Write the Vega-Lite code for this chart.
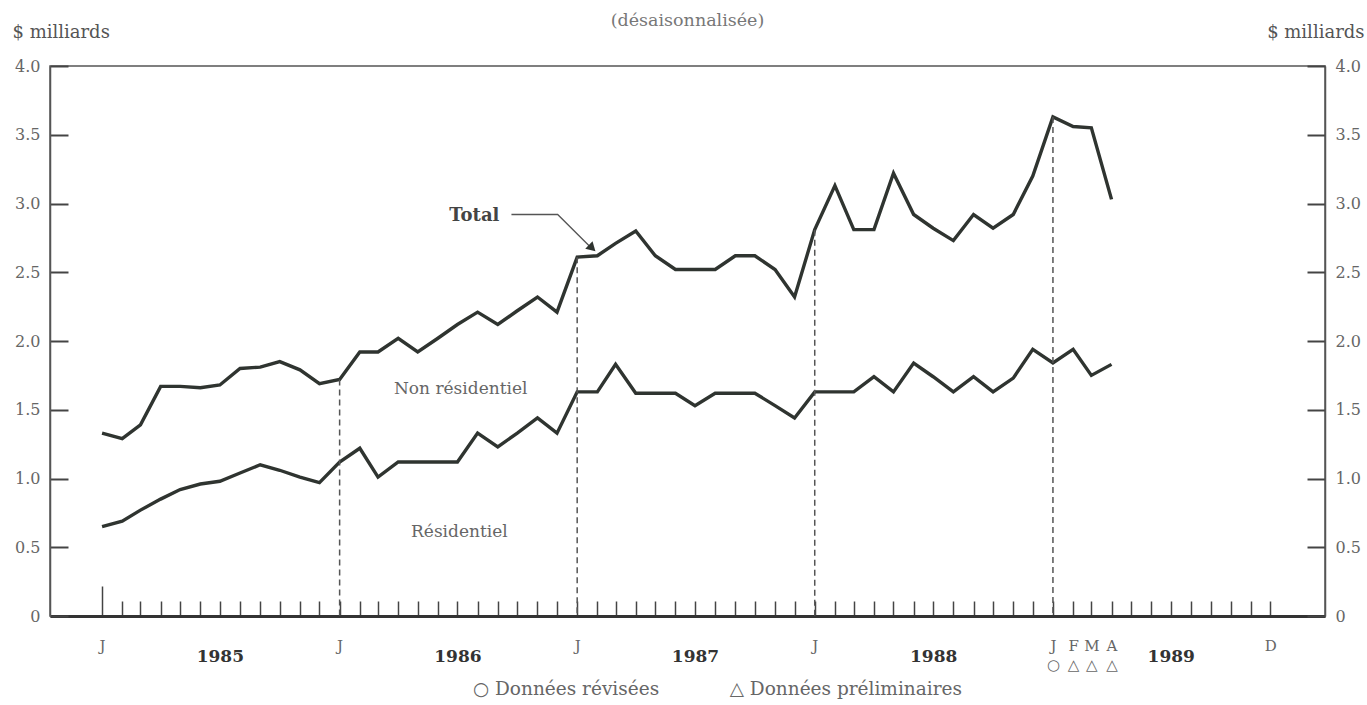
{
  "$schema": "https://vega.github.io/schema/vega-lite/v6.json",
  "width": 1275,
  "height": 550,
  "autosize": {"type": "none"},
  "padding": {"left": 50, "top": 66, "right": 42, "bottom": 89},
  "background": "white",
  "title": {"text": "(désaisonnalisée)", "font": "DejaVu Serif", "fontSize": 17.5, "fontWeight": "normal", "color": "#777", "anchor": "middle", "frame": "group", "offset": -6},
  "config": {"view": {"stroke": "#555", "strokeWidth": 1.5}, "font": "DejaVu Serif"},
  "data": {
    "format": {"parse": {"date": "date"}},
    "values": [
      {"date": "1985-01-01", "total": 1.33, "residential": 0.65},
      {"date": "1985-02-01", "total": 1.29, "residential": 0.69},
      {"date": "1985-03-01", "total": 1.39, "residential": 0.77},
      {"date": "1985-04-01", "total": 1.67, "residential": 0.85},
      {"date": "1985-05-01", "total": 1.67, "residential": 0.92},
      {"date": "1985-06-01", "total": 1.66, "residential": 0.96},
      {"date": "1985-07-01", "total": 1.68, "residential": 0.98},
      {"date": "1985-08-01", "total": 1.80, "residential": 1.04},
      {"date": "1985-09-01", "total": 1.81, "residential": 1.10},
      {"date": "1985-10-01", "total": 1.85, "residential": 1.06},
      {"date": "1985-11-01", "total": 1.79, "residential": 1.01},
      {"date": "1985-12-01", "total": 1.69, "residential": 0.97},
      {"date": "1986-01-01", "total": 1.72, "residential": 1.12},
      {"date": "1986-02-01", "total": 1.92, "residential": 1.22},
      {"date": "1986-03-01", "total": 1.92, "residential": 1.01},
      {"date": "1986-04-01", "total": 2.02, "residential": 1.12},
      {"date": "1986-05-01", "total": 1.92, "residential": 1.12},
      {"date": "1986-06-01", "total": 2.02, "residential": 1.12},
      {"date": "1986-07-01", "total": 2.12, "residential": 1.12},
      {"date": "1986-08-01", "total": 2.21, "residential": 1.33},
      {"date": "1986-09-01", "total": 2.12, "residential": 1.23},
      {"date": "1986-10-01", "total": 2.22, "residential": 1.33},
      {"date": "1986-11-01", "total": 2.32, "residential": 1.44},
      {"date": "1986-12-01", "total": 2.21, "residential": 1.33},
      {"date": "1987-01-01", "total": 2.61, "residential": 1.63},
      {"date": "1987-02-01", "total": 2.62, "residential": 1.63},
      {"date": "1987-03-01", "total": 2.71, "residential": 1.83},
      {"date": "1987-04-01", "total": 2.80, "residential": 1.62},
      {"date": "1987-05-01", "total": 2.62, "residential": 1.62},
      {"date": "1987-06-01", "total": 2.52, "residential": 1.62},
      {"date": "1987-07-01", "total": 2.52, "residential": 1.53},
      {"date": "1987-08-01", "total": 2.52, "residential": 1.62},
      {"date": "1987-09-01", "total": 2.62, "residential": 1.62},
      {"date": "1987-10-01", "total": 2.62, "residential": 1.62},
      {"date": "1987-11-01", "total": 2.52, "residential": 1.53},
      {"date": "1987-12-01", "total": 2.32, "residential": 1.44},
      {"date": "1988-01-01", "total": 2.81, "residential": 1.63},
      {"date": "1988-02-01", "total": 3.13, "residential": 1.63},
      {"date": "1988-03-01", "total": 2.81, "residential": 1.63},
      {"date": "1988-04-01", "total": 2.81, "residential": 1.74},
      {"date": "1988-05-01", "total": 3.22, "residential": 1.63},
      {"date": "1988-06-01", "total": 2.92, "residential": 1.84},
      {"date": "1988-07-01", "total": 2.82, "residential": 1.74},
      {"date": "1988-08-01", "total": 2.73, "residential": 1.63},
      {"date": "1988-09-01", "total": 2.92, "residential": 1.74},
      {"date": "1988-10-01", "total": 2.82, "residential": 1.63},
      {"date": "1988-11-01", "total": 2.92, "residential": 1.73},
      {"date": "1988-12-01", "total": 3.20, "residential": 1.94},
      {"date": "1989-01-01", "total": 3.63, "residential": 1.84},
      {"date": "1989-02-01", "total": 3.56, "residential": 1.94},
      {"date": "1989-03-01", "total": 3.55, "residential": 1.75},
      {"date": "1989-04-01", "total": 3.03, "residential": 1.83}
    ]
  },
  "resolve": {"axis": {"y": "independent"}},
  "layer": [
    {
      "mark": {"type": "line", "stroke": "#2f3430", "strokeWidth": 3.4, "strokeJoin": "miter"},
      "encoding": {
        "x": {
          "field": "date", "type": "temporal",
          "scale": {"type": "utc", "domain": [{"year": 1984, "month": 10, "date": 13, "utc": true}, {"year": 1990, "month": 2, "date": 23, "utc": true}]},
          "axis": {
            "tickCount": {"interval": "month", "step": 1},
            "labelExpr": "utcyear(datum.value)<1985||utcyear(datum.value)>1989 ? '' : utcmonth(datum.value)==0 ? (utcyear(datum.value)==1989 ? ['J','○'] : 'J') : utcmonth(datum.value)==6 ? ''+utcyear(datum.value) : (utcyear(datum.value)==1989 && utcmonth(datum.value)==1) ? ['F','△'] : (utcyear(datum.value)==1989 && utcmonth(datum.value)==2) ? ['M','△'] : (utcyear(datum.value)==1989 && utcmonth(datum.value)==3) ? ['A','△'] : (utcyear(datum.value)==1989 && utcmonth(datum.value)==11) ? 'D' : ''",
            "labelOverlap": false,
            "labelFont": "DejaVu Serif",
            "labelFontSize": {"condition": {"test": "utcmonth(datum.value)==6", "value": 17}, "value": 15},
            "labelFontWeight": {"condition": {"test": "utcmonth(datum.value)==6", "value": "bold"}, "value": "normal"},
            "labelColor": {"condition": {"test": "utcmonth(datum.value)==6", "value": "#333"}, "value": "#666"},
            "labelPadding": {"condition": [
              {"test": "utcmonth(datum.value)==6", "value": 47},
              {"test": "utcyear(datum.value)==1985 && utcmonth(datum.value)==0", "value": 52}
            ], "value": 37},
            "labelLineHeight": 19,
            "tickSize": {"condition": {"test": "utcyear(datum.value)==1985 && utcmonth(datum.value)==0", "value": -30}, "value": -15},
            "tickOpacity": {"condition": {"test": "utcyear(datum.value)<1985||utcyear(datum.value)>1989", "value": 0}, "value": 1},
            "tickColor": "#444",
            "tickWidth": 1.5,
            "domainColor": "#333",
            "domainWidth": 3,
            "grid": false,
            "title": "○ Données révisées\u00a0\u00a0\u00a0\u00a0\u00a0\u00a0\u00a0\u00a0\u00a0\u00a0\u00a0\u00a0△ Données préliminaires",
            "titleFont": "DejaVu Serif",
            "titleFontSize": 18.5,
            "titleFontWeight": "normal",
            "titleColor": "#666",
            "titleX": 667,
            "titleY": 63,
            "titleBaseline": "top",
            "titleAlign": "center"
          }
        },
        "y": {
          "field": "total", "type": "quantitative",
          "scale": {"domain": [0, 4], "nice": false, "zero": true},
          "axis": {
            "orient": "left", "values": [0, 0.5, 1, 1.5, 2, 2.5, 3, 3.5, 4],
            "labelExpr": "datum.value==0 ? '0' : format(datum.value, '.1f')",
            "tickSize": -18, "tickWidth": 2, "tickColor": "#444",
            "domainColor": "#555", "domainWidth": 1.5, "grid": false,
            "labelFont": "DejaVu Serif", "labelFontSize": 16, "labelColor": "#666", "labelPadding": 28,
            "title": "$ milliards", "titleAngle": 0, "titleAlign": "left", "titleBaseline": "middle",
            "titleX": -38, "titleY": -34, "titleFont": "DejaVu Serif", "titleFontSize": 18,
            "titleFontWeight": "normal", "titleColor": "#555"
          }
        }
      }
    },
    {
      "mark": {"type": "line", "stroke": "#2f3430", "strokeWidth": 3.4, "strokeJoin": "miter"},
      "encoding": {
        "x": {"field": "date", "type": "temporal"},
        "y": {
          "field": "residential", "type": "quantitative",
          "axis": {
            "orient": "right", "values": [0, 0.5, 1, 1.5, 2, 2.5, 3, 3.5, 4],
            "labelExpr": "datum.value==0 ? '0' : format(datum.value, '.1f')",
            "tickSize": -18, "tickWidth": 2, "tickColor": "#444",
            "domainColor": "#555", "domainWidth": 1.5, "grid": false,
            "labelFont": "DejaVu Serif", "labelFontSize": 16, "labelColor": "#666", "labelPadding": 28,
            "title": "$ milliards", "titleAngle": 0, "titleAlign": "right", "titleBaseline": "middle",
            "titleX": 39, "titleY": -34, "titleFont": "DejaVu Serif", "titleFontSize": 18,
            "titleFontWeight": "normal", "titleColor": "#555"
          }
        }
      }
    },
    {
      "transform": [{"filter": "utcmonth(datum.date)==0 && utcyear(datum.date)>=1986"}],
      "mark": {"type": "rule", "stroke": "#555", "strokeWidth": 1.5, "strokeDash": [6, 4]},
      "encoding": {
        "x": {"field": "date", "type": "temporal"},
        "y": {"field": "total", "type": "quantitative", "axis": null},
        "y2": {"datum": 0}
      }
    },
    {
      "data": {"values": [
        {"date": "1986-07-06", "value": 1.65, "label": "Non résidentiel"},
        {"date": "1986-07-04", "value": 0.613, "label": "Résidentiel"}
      ]},
      "mark": {"type": "text", "font": "DejaVu Serif", "fontSize": 17, "color": "#666", "align": "center", "baseline": "middle"},
      "encoding": {
        "x": {"field": "date", "type": "temporal"},
        "y": {"field": "value", "type": "quantitative", "axis": null},
        "text": {"field": "label"}
      }
    },
    {
      "data": {"values": [{"date": "1986-07-27", "value": 2.91, "label": "Total"}]},
      "mark": {"type": "text", "font": "DejaVu Serif", "fontSize": 18, "fontWeight": "bold", "color": "#444", "align": "center", "baseline": "middle"},
      "encoding": {
        "x": {"field": "date", "type": "temporal"},
        "y": {"field": "value", "type": "quantitative", "axis": null},
        "text": {"field": "label"}
      }
    },
    {
      "data": {"values": [
        {"date": "1986-09-22", "value": 2.92},
        {"date": "1986-12-02", "value": 2.92},
        {"date": "1987-01-22", "value": 2.68}
      ]},
      "mark": {"type": "line", "stroke": "#555", "strokeWidth": 1.3},
      "encoding": {
        "x": {"field": "date", "type": "temporal"},
        "y": {"field": "value", "type": "quantitative", "axis": null}
      }
    },
    {
      "data": {"values": [{"date": "1987-01-24", "value": 2.675}]},
      "mark": {"type": "point", "shape": "triangle-up", "filled": true, "color": "#2f3430", "opacity": 1, "size": 110, "angle": 134},
      "encoding": {
        "x": {"field": "date", "type": "temporal"},
        "y": {"field": "value", "type": "quantitative", "axis": null}
      }
    }
  ]
}
